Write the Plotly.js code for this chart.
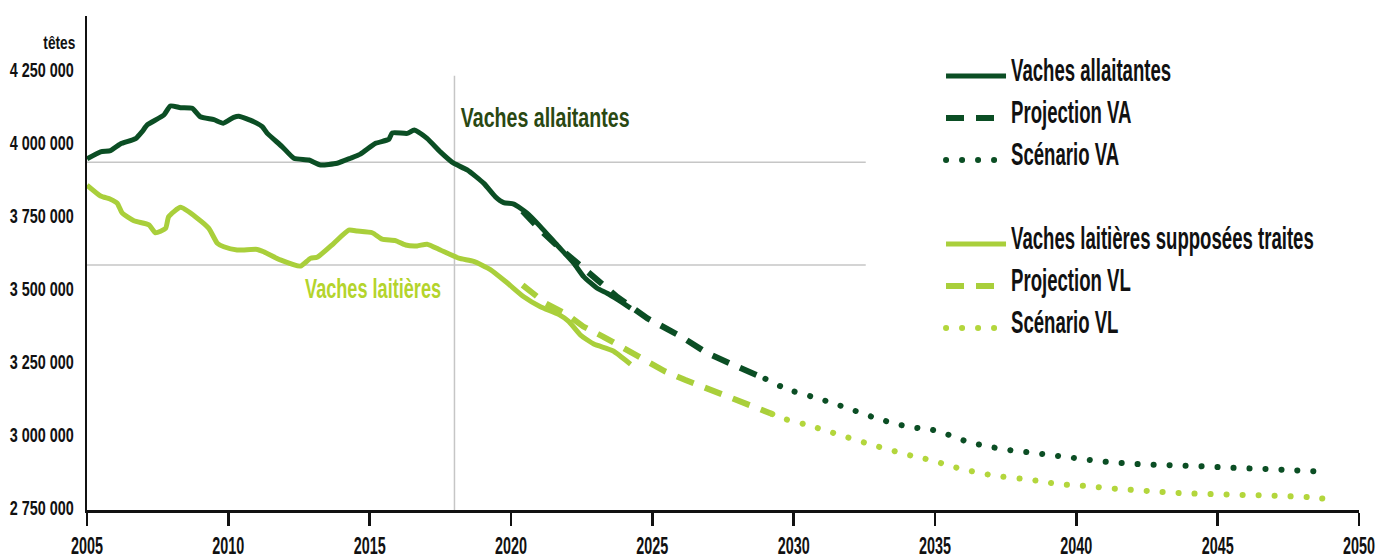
<!DOCTYPE html>
<html>
<head>
<meta charset="utf-8">
<script src="https://cdn.plot.ly/plotly-3.0.1.min.js"></script>
<style>
html,body{margin:0;padding:0;background:#fff;}
#chart{width:1376px;height:558px;}
</style>
</head>
<body>
<div id="chart"></div>
<script>
// ---------- DATA ----------
const vaYears = [2005.00,2005.48,2005.83,2006.18,2006.72,2006.95,2007.13,2007.72,2007.95,2008.31,2008.72,2009.01,2009.49,2009.82,2010.19,2010.37,2010.90,2011.20,2011.37,2011.90,2012.32,2012.85,2013.26,2013.85,2014.32,2014.67,2015.21,2015.68,2015.80,2016.33,2016.58,2017.03,2017.50,2017.97,2018.45,2019.04,2019.45,2019.74,2020.10,2020.57,2021.04,2021.63,2022.22,2022.57,2023.05,2023.40,2023.76,2024.23];
const vaValues = [3946000,3970000,3974000,3997000,4015000,4039000,4062000,4096000,4127000,4121000,4119000,4090000,4080000,4068000,4088000,4092000,4073000,4056000,4034000,3988000,3948000,3942000,3925000,3931000,3948000,3962000,3999000,4013000,4035000,4033000,4045000,4016000,3970000,3931000,3908000,3862000,3816000,3796000,3791000,3760000,3714000,3651000,3589000,3543000,3503000,3486000,3465000,3435000];

const projVaYears = [2020.41,2021.04,2021.68,2022.35,2023.06,2023.76,2024.83,2026.00,2026.94,2027.88,2028.82,2029.00];
const projVaValues = [3767000,3702000,3644000,3586000,3531000,3473000,3400000,3339000,3281000,3240000,3200000,3193000];

const scenVaYears = [2029.00,2029.77,2030.83,2031.87,2033.03,2034.08,2035.02,2036.16,2037.32,2038.54,2039.71,2040.88,2042.04,2043.19,2044.32,2045.46,2046.59,2047.73,2048.85];
const scenVaValues = [3193000,3158000,3127000,3094000,3055000,3029000,3016000,2978000,2954000,2939000,2925000,2911000,2902000,2898000,2894000,2889000,2885000,2880000,2875000];

const vlYears = [2005.00,2005.48,2005.83,2006.07,2006.25,2006.66,2007.19,2007.42,2007.78,2007.89,2008.31,2008.90,2009.31,2009.61,2009.84,2010.31,2011.02,2011.25,2011.84,2012.55,2012.91,2013.14,2013.73,2014.26,2014.56,2015.09,2015.44,2015.91,2016.27,2016.68,2017.03,2017.50,2018.15,2018.68,2019.27,2019.86,2020.45,2021.04,2021.70,2022.04,2022.46,2022.93,2023.60,2024.23];
const vlValues = [3856000,3819000,3808000,3794000,3760000,3734000,3720000,3693000,3708000,3748000,3780000,3743000,3708000,3657000,3645000,3634000,3636000,3628000,3600000,3579000,3606000,3609000,3657000,3702000,3699000,3693000,3671000,3666000,3651000,3648000,3654000,3634000,3606000,3595000,3567000,3522000,3474000,3440000,3413000,3390000,3343000,3312000,3289000,3243000];

const projVlYears = [2020.41,2021.22,2022.00,2022.56,2023.27,2024.10,2024.83,2025.46,2026.17,2026.98,2027.76,2028.58,2029.24];
const projVlValues = [3514000,3452000,3412000,3372000,3337000,3292000,3258000,3218000,3189000,3158000,3132000,3098000,3073000];

const scenVlYears = [2029.24,2029.41,2030.48,2031.57,2032.79,2033.93,2034.84,2035.85,2037.10,2038.42,2039.37,2040.36,2041.39,2042.43,2043.49,2044.62,2045.82,2047.02,2048.20,2048.85];
const scenVlValues = [3073000,3064000,3035000,3003000,2967000,2936000,2915000,2887000,2862000,2847000,2833000,2826000,2817000,2810000,2803000,2799000,2796000,2793000,2788000,2782000];

// reference lines (2018 marker)
const refYear = 2018;
const refTopValue = 4230000;
const refEndYear = 2032.55;
const refVaValue = 3934000;
const refVlValue = 3583000;

const xTickVals = [2005,2010,2015,2020,2025,2030,2035,2040,2045,2050];
const xTickText = ['2005','2010','2015','2020','2025','2030','2035','2040','2045','2050'];
const yTickVals = [2750000,3000000,3250000,3500000,3750000,4000000,4250000];
const yTickText = ['2 750 000','3 000 000','3 250 000','3 500 000','3 750 000','4 000 000','4 250 000'];

const names = ['Vaches allaitantes','Projection VA','Scénario VA','Vaches laitières supposées traites','Projection VL','Scénario VL'];
const unitLabel = 'têtes';
const labelVA = 'Vaches allaitantes';
const labelVL = 'Vaches laitières';

// ---------- STYLE ----------
const FONT = '"Liberation Sans", Arial, sans-serif';
const DARK = '#0b4e24';
const LIGHT = '#a9cf3b';
const LIGHT_DOT = '#b3d63c';
const DASH = '18px,12px';
const DOT = '5px,11px';
const YMIN = 2744200, YMAX = 4434800;

const traces = [
  {x: vaYears, y: vaValues, name: names[0], mode:'lines', line:{color:DARK, width:5, shape:'spline', smoothing:0.5}, legendgroup:'a1'},
  {x: projVaYears, y: projVaValues, name: names[1], mode:'lines', line:{color:DARK, width:6, dash:DASH}, legendgroup:'a2'},
  {x: scenVaYears, y: scenVaValues, name: names[2], mode:'lines', line:{color:DARK, width:6, dash:DOT, shape:'spline'}, legendgroup:'a3'},
  // empty legend row separating the two groups
  {x: [2005], y: [null], name: ' ', mode:'lines', line:{color:'rgba(0,0,0,0)', width:0}, legendgroup:'sp', hoverinfo:'skip'},
  {x: vlYears, y: vlValues, name: names[3], mode:'lines', line:{color:LIGHT, width:5, shape:'spline', smoothing:0.5}, legendgroup:'b1'},
  {x: projVlYears, y: projVlValues, name: names[4], mode:'lines', line:{color:LIGHT, width:6, dash:DASH}, legendgroup:'b2'},
  {x: scenVlYears, y: scenVlValues, name: names[5], mode:'lines', line:{color:LIGHT_DOT, width:6, dash:DOT, shape:'spline'}, legendgroup:'b3'}
];

const layout = {
  width:1376, height:558,
  margin:{l:87, r:17, t:16, b:48, autoexpand:false},
  paper_bgcolor:'#fff', plot_bgcolor:'#fff',
  font:{family:FONT, color:'#111', weight:'bold'},
  showlegend:true,
  legend:{
    font:{family:FONT, size:20, color:'#111', weight:'bold'},
    bgcolor:'rgba(0,0,0,0)', borderwidth:0,
    traceorder:'grouped', tracegroupgap:13, itemwidth:60,
    xanchor:'left', yanchor:'top', x:0.6714, y:0.918
  },
  xaxis:{
    range:[2005,2050], showgrid:false, zeroline:false,
    showline:true, linecolor:'#111', linewidth:2.5,
    ticks:'outside', ticklen:13, tickwidth:2.5, tickcolor:'#111',
    tickvals:xTickVals, ticktext:xTickText,
    tickfont:{family:FONT, size:16, color:'#111', weight:'bold'},
    ticklabelstandoff:6, ticklabeloverflow:'allow'
  },
  yaxis:{
    range:[YMIN, YMAX], showgrid:false, zeroline:false,
    showline:true, linecolor:'#111', linewidth:2,
    ticks:'', tickvals:yTickVals, ticktext:yTickText,
    tickfont:{family:FONT, size:16, color:'#111', weight:'bold'},
    ticklabelstandoff:8, ticklabeloverflow:'allow'
  },
  shapes:[
    {type:'line', xref:'x', yref:'y', x0:refYear, x1:refYear, y0:YMIN, y1:refTopValue, line:{color:'#c6c6c6', width:1.5}, layer:'below'},
    {type:'line', xref:'x', yref:'y', x0:2005, x1:refEndYear, y0:refVaValue, y1:refVaValue, line:{color:'#c6c6c6', width:1.5}, layer:'below'},
    {type:'line', xref:'x', yref:'y', x0:2005, x1:refEndYear, y0:refVlValue, y1:refVlValue, line:{color:'#c6c6c6', width:1.5}, layer:'below'}
  ],
  annotations:[
    {text:unitLabel, xref:'paper', yref:'paper', x:-0.022, y:0.945, xanchor:'center', yanchor:'middle', showarrow:false,
     font:{family:FONT, size:14, color:'#111', weight:'bold'}},
    {text:labelVA, xref:'x', yref:'y', x:2021.20, y:4090000, xanchor:'center', yanchor:'middle', showarrow:false,
     font:{family:FONT, size:20, color:'#2a4812', weight:'bold'}},
    {text:labelVL, xref:'x', yref:'y', x:2015.13, y:3504000, xanchor:'center', yanchor:'middle', showarrow:false,
     font:{family:FONT, size:20, color:'#b4d42c', weight:'bold'}}
  ]
};

// condensed-typeface look: stretch each text around its anchor (idempotent)
function stretch(sel, sx, sy, dy) {
  document.querySelectorAll(sel).forEach(function(t){
    const cur = t.getAttribute('transform') || '';
    if (t.dataset.st && cur === t.dataset.st) return;
    const bb = t.getBBox();
    const anchor = t.getAttribute('text-anchor') || 'start';
    const px = anchor === 'end' ? bb.x + bb.width : (anchor === 'middle' ? bb.x + bb.width/2 : bb.x);
    const py = bb.y + bb.height/2;
    const nt = cur + ' translate(' + px + ',' + (py + (dy||0)) + ') scale(' + sx + ',' + sy + ') translate(' + (-px) + ',' + (-py) + ')';
    t.setAttribute('transform', nt);
    t.dataset.st = nt;
  });
}

function finish() {
  stretch('.ytick text', 0.90, 1.22, 0);
  stretch('.xtick text', 0.90, 1.48, 1);
  stretch('.legendtext', 0.93, 1.6, -7);
  stretch('.annotation[data-index="0"] text', 0.98, 1.3, 0);
  stretch('.annotation[data-index="1"] text', 0.98, 1.4, 0);
  stretch('.annotation[data-index="2"] text', 0.906, 1.4, 0);
  document.querySelectorAll('path.js-line').forEach(function(p){
    const da = p.style.strokeDasharray || '';
    if (da.indexOf('11px') >= 0) {
      p.style.strokeDasharray = '0.1px, 15.9px';
      p.style.strokeLinecap = 'round';
    }
  });
}

Plotly.newPlot('chart', traces, layout, {displayModeBar:false, staticPlot:true}).then(function(){
  finish();
  setTimeout(finish, 30);
  setTimeout(finish, 150);
});
</script>
</body>
</html>
